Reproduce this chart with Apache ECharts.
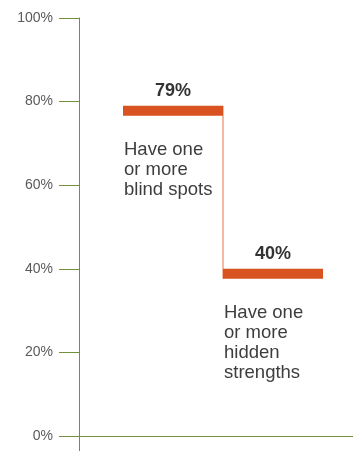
<!DOCTYPE html>
<html>
<head>
<meta charset="utf-8">
<script src="https://cdn.jsdelivr.net/npm/echarts@6/dist/echarts.min.js"></script>
<style>
html,body{margin:0;padding:0;background:#fff;}
#c{width:353px;height:451px;}
</style>
</head>
<body>
<div id="c"></div>
<script>
const categories = ['Have one\nor more\nblind spots', 'Have one\nor more\nhidden\nstrengths'];
const values = [79, 40];
const valueLabels = ['79%', '40%'];
const yMin = 0, yMax = 100, yInterval = 20;

const AXIS = '#71903a';
const BAR = '#d8531f';
const CONNECT = '#f0a27f';
const FONT = '"Liberation Sans", Arial, Helvetica, sans-serif';

const chart = echarts.init(document.getElementById('c'), null, {renderer: 'canvas'});

function renderItem(params, api) {
  const idx = api.value(0);
  const val = api.value(1);
  const pt = api.coord([idx, val]);
  const w = api.size([1, 0])[0];
  const x0 = pt[0] - w / 2;
  const h = 10;
  const children = [];
  if (idx > 0) {
    const prevY = api.coord([idx, values[idx - 1]])[1];
    children.push({
      type: 'line', z2: 1,
      shape: {x1: x0, y1: prevY, x2: x0, y2: pt[1] + h},
      style: {stroke: CONNECT, lineWidth: 1.5}
    });
  }
  children.push({
    type: 'rect', z2: 2,
    shape: {x: x0, y: pt[1], width: w, height: h},
    style: {fill: BAR}
  });
  children.push({
    type: 'text', z2: 3,
    style: {
      x: pt[0], y: pt[1] - 6, text: valueLabels[idx],
      font: 'bold 18px ' + FONT, fill: '#333',
      align: 'center', verticalAlign: 'bottom'
    }
  });
  children.push({
    type: 'text', z2: 3,
    style: {
      x: x0 + 1, y: pt[1] + h + 24, text: categories[idx],
      font: '18.5px ' + FONT, fill: '#3d3d3d', lineHeight: 20,
      align: 'left', verticalAlign: 'top'
    }
  });
  return {type: 'group', children};
}

chart.setOption({
  animation: false,
  backgroundColor: '#fff',
  grid: [
    {left: 79, right: 0, top: 18, bottom: 15, outerBoundsMode: 'none'},
    {left: 123, right: 30, top: 18, bottom: 15, outerBoundsMode: 'none'},
    {left: 79, right: 0, top: 436, bottom: 0, outerBoundsMode: 'none'}
  ],
  xAxis: [
    {gridIndex: 0, type: 'value', min: 0, max: 1,
     axisLine: {show: true, lineStyle: {color: AXIS, width: 1}},
     axisTick: {show: false}, axisLabel: {show: false}, splitLine: {show: false}},
    {gridIndex: 1, type: 'category', data: categories, show: false},
    {gridIndex: 2, type: 'value', show: false}
  ],
  yAxis: [
    {gridIndex: 0, type: 'value', min: yMin, max: yMax, interval: yInterval,
     axisLine: {show: true, lineStyle: {color: AXIS, width: 1}},
     axisTick: {show: true, length: 20, lineStyle: {color: AXIS, width: 1}},
     axisLabel: {formatter: '{value}%', margin: 26, color: '#5a5a5a', fontSize: 14, fontFamily: FONT},
     splitLine: {show: false}},
    {gridIndex: 1, type: 'value', min: yMin, max: yMax, show: false},
    {gridIndex: 2, type: 'value', min: 0, max: 1,
     axisLine: {show: true, lineStyle: {color: AXIS, width: 1}},
     axisTick: {show: false}, axisLabel: {show: false}, splitLine: {show: false}}
  ],
  series: [{
    type: 'custom',
    xAxisIndex: 1, yAxisIndex: 1,
    renderItem: renderItem,
    data: values.map((v, i) => [i, v]),
    clip: false
  }]
});
</script>
</body>
</html>
